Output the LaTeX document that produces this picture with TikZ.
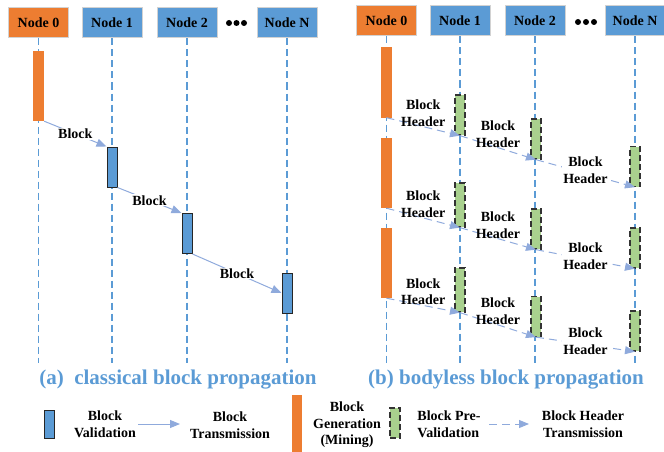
\documentclass[tikz,border=0pt]{standalone}
\usepackage{fontspec}
\setmainfont{Liberation Serif}
\usetikzlibrary{arrows.meta}
\definecolor{nodeblue}{HTML}{5B9BD5}
\definecolor{nodeorange}{HTML}{ED7D31}
\definecolor{validgreen}{HTML}{A9D18E}
\definecolor{arrowblue}{HTML}{8FAADC}
\tikzset{
  hdr/.style={draw=gray!35,line width=1pt,minimum width=60pt,minimum height=30pt,inner sep=0pt},
  mine/.style={fill=nodeorange,minimum width=11pt,minimum height=70pt,inner sep=0pt},
  valid/.style={draw=black!85,line width=1pt,fill=nodeblue,minimum width=10pt,minimum height=40pt,inner sep=0pt},
  prevalid/.style={draw=black!80,line width=1.3pt,dash pattern=on 6pt off 3pt,fill=validgreen,minimum width=10pt,minimum height=40pt,inner sep=0pt},
  lifeline/.style={draw=nodeblue,line width=1.4pt,dash pattern=on 7pt off 4pt},
  blkarrow/.style={draw=arrowblue,line width=1pt,-{Triangle[length=10pt,width=8pt]}},
  hdrarrow/.style={blkarrow,dash pattern=on 8pt off 5pt},
  lbl/.style={align=center,inner sep=1pt},
  caption/.style={font=\bfseries\fontsize{21}{25}\selectfont,text=nodeblue}
}
\begin{document}
\begin{tikzpicture}
  [x=1pt,y=-1pt,every node/.style={font=\bfseries\fontsize{14}{16.5}\selectfont}]
  \useasboundingbox (0,0) rectangle (664,452);

  % (a) classical block propagation
  \node[hdr,fill=nodeorange] (a0) at (38.5,23) {Node 0};
  \node[hdr,fill=nodeblue]   (a1) at (112,23)  {Node 1};
  \node[hdr,fill=nodeblue]   (a2) at (187,23)  {Node 2};
  \node[hdr,fill=nodeblue]   (aN) at (287,23)  {Node N};
  \foreach \x in {229,236.5,244}
    \fill (\x,23) circle (3pt);
  \foreach \n in {a0,a1,a2,aN} {
    \coordinate (end\n) at (\n.south |- 0,363);
    \draw[lifeline] (\n.south) -- (end\n);
  }
  \node[mine]  (m0) at (38.5,86)  {};
  \node[valid] (v1) at (112,167)  {};
  \node[valid] (v2) at (187,233.5) {};
  \node[valid] (vN) at (287,293)  {};
  \draw[blkarrow] (m0.south east) -- node[lbl,fill=white] {Block} (v1.north west);
  \draw[blkarrow] (v1.south east) -- node[lbl,fill=white] {Block} (v2.north west);
  \draw[blkarrow] (v2.south east) -- node[lbl,fill=white] {Block} (vN.west);
  \node[caption] (capa) at (178,380) {(a)\ \ classical block propagation};

  % (b) bodyless block propagation
  \node[hdr,fill=nodeorange] (b0) at (386.5,21) {Node 0};
  \node[hdr,fill=nodeblue]   (b1) at (460,21)   {Node 1};
  \node[hdr,fill=nodeblue]   (b2) at (535,21)   {Node 2};
  \node[hdr,fill=nodeblue]   (bN) at (635,21)   {Node N};
  \foreach \x in {578,586,594}
    \fill (\x,22) circle (3pt);
  \foreach \n in {b0,b1,b2,bN} {
    \coordinate (end\n) at (\n.south |- 0,363);
    \draw[lifeline] (\n.south) -- (end\n);
  }
  \node[mine] (m1) at (386.5,82.5) {};
  \node[mine] (m2) at (386.5,173)  {};
  \node[mine] (m3) at (386.5,263)  {};
  \node[prevalid] (p11) at (460,115)   {};
  \node[prevalid,minimum height=44pt] (p12) at (460,205) {};
  \node[prevalid,minimum height=44pt] (p13) at (460,290) {};
  \node[prevalid] (p21) at (536,139)   {};
  \node[prevalid] (p22) at (536,229)   {};
  \node[prevalid] (p23) at (536,316.5) {};
  \node[prevalid] (pN1) at (635,166.5) {};
  \node[prevalid] (pN2) at (635,248)   {};
  \node[prevalid] (pN3) at (635,331)   {};
  \foreach \r in {1,2,3} {
    \draw[hdrarrow] (m\r.south) -- node[lbl,above=-1pt] {Block\\Header} (p1\r.south);
    \draw[hdrarrow] (p1\r.south) -- node[lbl,above=-1pt] {Block\\Header} (p2\r.south);
    \draw[hdrarrow] (p2\r.south) -- node[lbl,fill=white,yshift=3pt] {Block\\Header} (pN\r.south);
  }
  \node[caption] (capb) at (506,380) {(b) bodyless block propagation};

  % legend
  \node[valid,minimum height=28pt] (kv) at (49,424) {};
  \node[lbl] (kvt) at (105,424) {Block\\Validation};
  \coordinate (kb1) at (138,424);
  \coordinate (kb2) at (180,424);
  \draw[blkarrow] (kb1) -- (kb2);
  \node[lbl] (kbt) at (230,425) {Block\\Transmission};
  \node[mine,minimum width=10pt,minimum height=58pt] (km) at (297,424) {};
  \node[lbl] (kmt) at (347,425) {Block\\Generation\\(Mining)};
  \node[prevalid,minimum height=30pt] (kp) at (395,423) {};
  \node[lbl,align=left] (kpt) at (449,424) {Block Pre-\\Validation};
  \coordinate (kh1) at (489,424);
  \coordinate (kh2) at (529,424);
  \draw[hdrarrow] (kh1) -- (kh2);
  \node[lbl] (kht) at (583,424) {Block Header\\Transmission};
\end{tikzpicture}
\end{document}
